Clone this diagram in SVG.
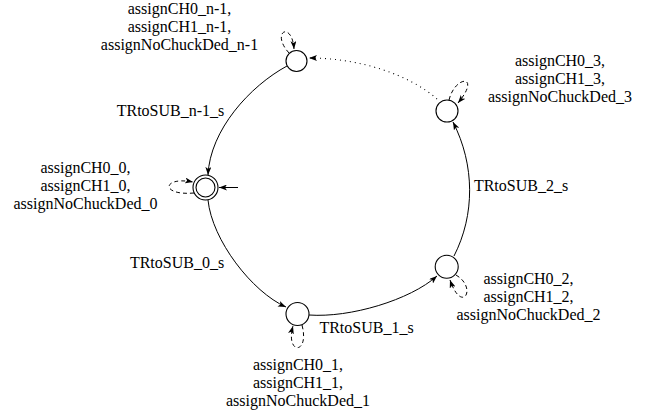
<svg xmlns="http://www.w3.org/2000/svg" width="652" height="414" viewBox="0 0 652 414">
  <style>
    .lbl { text-anchor: middle; }
    .state { fill: #fff; stroke: #000; stroke-width: 1.1; }
    .edge { fill: none; stroke: #000; stroke-width: 1; }
    .loop { fill: none; stroke: #000; stroke-width: 1; stroke-dasharray: 4 3; }
    .dotted { fill: none; stroke: #000; stroke-width: 1.1; stroke-dasharray: 1 4; }
  </style>
  <defs>
    <marker id="arrow" viewBox="0 0 8 6" refX="8" refY="3" markerWidth="8" markerHeight="6" markerUnits="userSpaceOnUse" orient="auto">
      <path d="M0,0 L8,3 L0,6 L2,3 z" fill="#000"/>
    </marker>
  </defs>

  <g font-family="Liberation Serif, serif" font-size="16" fill="#000">
  <!-- transitions -->
  <g id="connectors">
    <path class="edge" d="M287,66 C250,86 210,130 208,175" marker-end="url(#arrow)"/>
    <path class="edge" d="M208,200 C212,240 252,292 286,307" marker-end="url(#arrow)"/>
    <path class="edge" d="M309,315 C350,318 410,300 437,276" marker-end="url(#arrow)"/>
    <path class="edge" d="M454,256 C475,215 475,165 453,122" marker-end="url(#arrow)"/>
    <path class="dotted" d="M437,99 C410,75 360,58 309,58" marker-end="url(#arrow)"/>
    <path class="edge" d="M238,187.5 L219,187.5" marker-end="url(#arrow)"/>
    <!-- self loops -->
    <path class="loop" d="M289,53 C270,32 292,20 294,49" marker-end="url(#arrow)"/>
    <path class="loop" d="M194,193 C160,196 162,176 193,182" marker-end="url(#arrow)"/>
    <path class="loop" d="M302,325 C310,355 285,355 293,326" marker-end="url(#arrow)"/>
    <path class="loop" d="M456,275 C478,288 462,315 450,280" marker-end="url(#arrow)"/>
    <path class="loop" d="M449,100 C455,75 482,74 458,103" marker-end="url(#arrow)"/>
    <!-- transition labels -->
    <text x="170.5" y="116" class="lbl">TRtoSUB_n-1_s</text>
    <text x="177" y="268" class="lbl">TRtoSUB_0_s</text>
    <text x="366.5" y="333" class="lbl">TRtoSUB_1_s</text>
    <text x="521" y="191" class="lbl">TRtoSUB_2_s</text>
  </g>

  <g id="state-n-1">
    <circle class="state" cx="296.5" cy="61" r="10.5"/>
    <text class="lbl" x="179.5" y="13.5">assignCH0_n-1,</text>
    <text class="lbl" x="179.5" y="31.5">assignCH1_n-1,</text>
    <text class="lbl" x="179.5" y="49.5">assignNoChuckDed_n-1</text>
  </g>

  <g id="state-0">
    <circle class="state" cx="205.5" cy="187.5" r="12.5"/>
    <circle class="state" cx="205.5" cy="187.5" r="9.5"/>
    <text class="lbl" x="85.5" y="173">assignCH0_0,</text>
    <text class="lbl" x="85.5" y="191">assignCH1_0,</text>
    <text class="lbl" x="85.5" y="209">assignNoChuckDed_0</text>
  </g>

  <g id="state-1">
    <circle class="state" cx="297.5" cy="314" r="11.5"/>
    <text class="lbl" x="298" y="369.5">assignCH0_1,</text>
    <text class="lbl" x="298" y="387.5">assignCH1_1,</text>
    <text class="lbl" x="298" y="405.5">assignNoChuckDed_1</text>
  </g>

  <g id="state-2">
    <circle class="state" cx="446.7" cy="266.7" r="11.5"/>
    <text class="lbl" x="528.5" y="283.5">assignCH0_2,</text>
    <text class="lbl" x="528.5" y="301.5">assignCH1_2,</text>
    <text class="lbl" x="528.5" y="319.5">assignNoChuckDed_2</text>
  </g>

  <g id="state-3">
    <circle class="state" cx="447" cy="111" r="11"/>
    <text class="lbl" x="560" y="66">assignCH0_3,</text>
    <text class="lbl" x="560" y="84">assignCH1_3,</text>
    <text class="lbl" x="560" y="102">assignNoChuckDed_3</text>
  </g>
  </g>
</svg>
